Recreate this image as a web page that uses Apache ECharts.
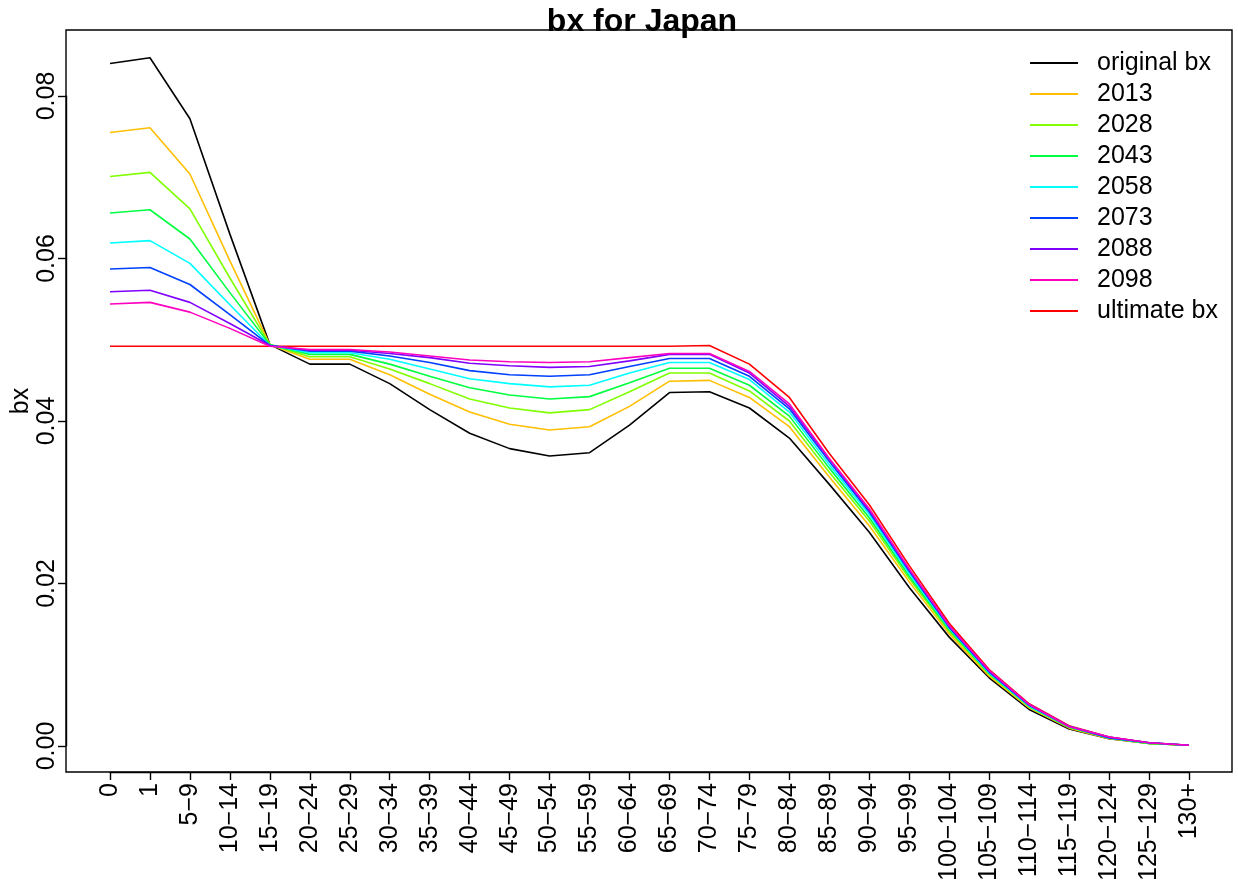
<!DOCTYPE html>
<html>
<head>
<meta charset="utf-8">
<title>bx for Japan</title>
<script src="https://cdn.jsdelivr.net/npm/echarts@6/dist/echarts.min.js"></script>
<style>
  html, body { margin: 0; padding: 0; background: #ffffff; }
  #chart { width: 1238px; height: 886px; }
</style>
</head>
<body>
<div id="chart"></div>
<script>
// Age groups along the x axis
const ageGroups = ['0', '1', '5\u22129', '10\u221214', '15\u221219', '20\u221224', '25\u221229', '30\u221234',
  '35\u221239', '40\u221244', '45\u221249', '50\u221254', '55\u221259', '60\u221264', '65\u221269', '70\u221274',
  '75\u221279', '80\u221284', '85\u221289', '90\u221294', '95\u221299', '100\u2212104', '105\u2212109',
  '110\u2212114', '115\u2212119', '120\u2212124', '125\u2212129', '130+'];

// Original age pattern of mortality improvement
const originalBx = [0.0840, 0.0847, 0.0772, 0.0630, 0.0494, 0.0470, 0.0470, 0.0446, 0.0414, 0.0385,
  0.0366, 0.0357, 0.0361, 0.0395, 0.0435, 0.0436, 0.0416, 0.0379, 0.0322, 0.0263,
  0.0195, 0.0134, 0.0084, 0.0045, 0.0021, 0.0009, 0.0003, 0.0001];

// Rotated bx by year
const bx2013 = [0.0755, 0.0761, 0.0704, 0.0597, 0.0494, 0.0476, 0.0476, 0.0457, 0.0433, 0.0411,
  0.0396, 0.0389, 0.0393, 0.0418, 0.0449, 0.0450, 0.0429, 0.0393, 0.0331, 0.0271,
  0.0202, 0.0138, 0.0086, 0.0047, 0.0022, 0.0009, 0.0003, 0.0001];
const bx2028 = [0.0701, 0.0706, 0.0661, 0.0576, 0.0494, 0.0479, 0.0479, 0.0464, 0.0446, 0.0427,
  0.0416, 0.0410, 0.0414, 0.0436, 0.0459, 0.0459, 0.0437, 0.0400, 0.0337, 0.0277,
  0.0206, 0.0141, 0.0088, 0.0048, 0.0023, 0.0010, 0.0003, 0.0001];
const bx2043 = [0.0656, 0.0660, 0.0624, 0.0558, 0.0494, 0.0482, 0.0482, 0.0470, 0.0455, 0.0441,
  0.0432, 0.0427, 0.0430, 0.0447, 0.0465, 0.0465, 0.0444, 0.0406, 0.0342, 0.0281,
  0.0209, 0.0143, 0.0089, 0.0049, 0.0023, 0.0010, 0.0003, 0.0001];
const bx2058 = [0.0619, 0.0622, 0.0594, 0.0543, 0.0493, 0.0484, 0.0484, 0.0476, 0.0464, 0.0452,
  0.0446, 0.0442, 0.0444, 0.0459, 0.0472, 0.0472, 0.0451, 0.0411, 0.0346, 0.0285,
  0.0212, 0.0145, 0.0090, 0.0049, 0.0024, 0.0010, 0.0004, 0.0001];
const bx2073 = [0.0587, 0.0589, 0.0568, 0.0531, 0.0493, 0.0486, 0.0486, 0.0480, 0.0472, 0.0462,
  0.0457, 0.0455, 0.0457, 0.0467, 0.0477, 0.0477, 0.0455, 0.0415, 0.0350, 0.0288,
  0.0215, 0.0146, 0.0091, 0.0050, 0.0024, 0.0010, 0.0004, 0.0001];
const bx2088 = [0.0559, 0.0561, 0.0546, 0.0520, 0.0493, 0.0487, 0.0487, 0.0483, 0.0478, 0.0471,
  0.0468, 0.0466, 0.0467, 0.0474, 0.0482, 0.0482, 0.0459, 0.0418, 0.0353, 0.0290,
  0.0217, 0.0148, 0.0092, 0.0051, 0.0024, 0.0011, 0.0004, 0.0001];
const bx2098 = [0.0544, 0.0546, 0.0534, 0.0514, 0.0492, 0.0488, 0.0488, 0.0485, 0.0480, 0.0475,
  0.0473, 0.0472, 0.0473, 0.0478, 0.0483, 0.0483, 0.0461, 0.0421, 0.0354, 0.0292,
  0.0218, 0.0148, 0.0093, 0.0051, 0.0024, 0.0011, 0.0004, 0.0001];

// Long-run target pattern
const ultimateBx = [0.0492, 0.0492, 0.0492, 0.0492, 0.0492, 0.0492, 0.0492, 0.0492, 0.0492, 0.0492,
  0.0492, 0.0492, 0.0492, 0.0492, 0.0492, 0.0493, 0.0470, 0.0429, 0.0360, 0.0297,
  0.0222, 0.0151, 0.0094, 0.0052, 0.0025, 0.0011, 0.0004, 0.0001];

const yTicks = [0, 0.02, 0.04, 0.06, 0.08];

const legendNames = ['original bx', '2013', '2028', '2043', '2058', '2073', '2088', '2098', 'ultimate bx'];
const lineColors = ['#000000', '#FFBF00', '#80FF00', '#00FF40', '#00FFFF', '#0040FF', '#8000FF', '#FF00BF', '#FF0000'];
const seriesValues = [originalBx, bx2013, bx2028, bx2043, bx2058, bx2073, bx2088, bx2098, ultimateBx];

const FONT = "'Liberation Sans', Arial, Helvetica, sans-serif";

// Plot frame (pixel box around the data region)
const frame = { left: 66, top: 30, right: 1232, bottom: 772 };

const chart = echarts.init(document.getElementById('chart'), null, { renderer: 'canvas' });

const series = seriesValues.map(function (vals, i) {
  const isUltimate = legendNames[i] === 'ultimate bx';
  return {
    name: legendNames[i],
    type: 'line',
    data: vals,
    symbol: 'none',
    smooth: false,
    clip: false,
    z: isUltimate ? 2 : 3,
    lineStyle: { color: lineColors[i], width: 1.6 },
    itemStyle: { color: lineColors[i] },
    emphasis: { disabled: true }
  };
});

chart.setOption({
  animation: false,
  backgroundColor: '#ffffff',
  textStyle: { fontFamily: FONT },
  grid: { left: 110, right: 49, top: 96, bottom: 140, containLabel: false },
  xAxis: {
    type: 'category',
    data: ageGroups,
    boundaryGap: false,
    offset: 26,
    axisLine: { show: true, onZero: false, lineStyle: { color: '#000', width: 1.4 } },
    axisTick: { show: true, length: 8, lineStyle: { color: '#000', width: 1.4 } },
    axisLabel: {
      interval: 0, rotate: 90, margin: 11,
      fontSize: 25, color: '#000', fontFamily: FONT
    },
    splitLine: { show: false }
  },
  yAxis: {
    type: 'value',
    min: yTicks[0],
    max: yTicks[yTicks.length - 1],
    interval: 0.02,
    offset: 44,
    axisLine: { show: true, onZero: false, lineStyle: { color: '#000', width: 1.4 } },
    axisTick: { show: true, length: 8, lineStyle: { color: '#000', width: 1.4 } },
    axisLabel: {
      rotate: 90, margin: 6,
      fontSize: 25, color: '#000', fontFamily: FONT,
      formatter: function (v) { return v.toFixed(2); }
    },
    splitLine: { show: false }
  },
  legend: {
    data: legendNames,
    orient: 'vertical',
    left: 1025,
    top: 45,
    icon: 'rect',
    itemWidth: 48,
    itemHeight: 2,
    itemGap: 5,
    selectedMode: false,
    textStyle: {
      fontSize: 25, lineHeight: 26, color: '#000', fontFamily: FONT,
      padding: [0, 0, 0, 14]
    }
  },
  title: {
    text: 'bx for Japan',
    left: 637,
    top: 1,
    textAlign: 'center',
    textStyle: { fontSize: 32, fontWeight: 'bold', color: '#000', fontFamily: FONT }
  },
  graphic: [
    {
      type: 'rect',
      shape: {
        x: frame.left, y: frame.top,
        width: frame.right - frame.left, height: frame.bottom - frame.top
      },
      style: { fill: null, stroke: '#000', lineWidth: 1.4 },
      silent: true,
      z: 10
    },
    {
      type: 'text',
      x: 21, y: (frame.top + frame.bottom) / 2,
      rotation: Math.PI / 2,
      style: {
        text: 'bx', fontSize: 25, fontFamily: FONT, fill: '#000',
        textAlign: 'center', textVerticalAlign: 'middle'
      },
      silent: true
    }
  ],
  series: series
});
</script>
</body>
</html>
